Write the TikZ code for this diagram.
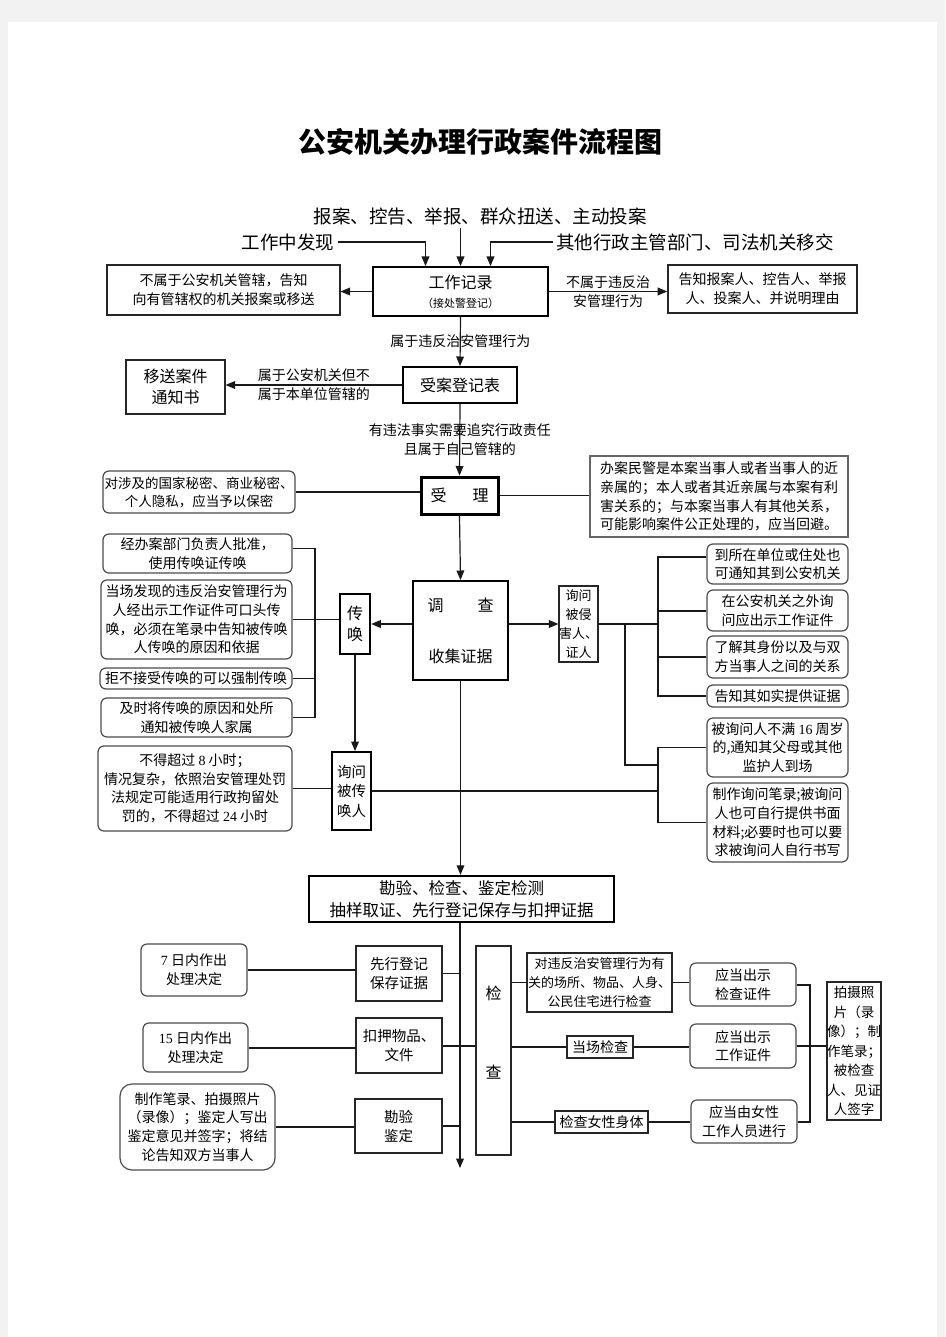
\documentclass[tikz,border=0pt]{standalone}
\usepackage{fontspec}
\setmainfont{Noto Sans CJK SC}
\newfontfamily\numfont{Liberation Serif}
\usetikzlibrary{arrows}
\newcommand{\fsize}[2]{\fontsize{#1}{#2}\selectfont}
\newcommand{\num}[1]{{\numfont #1}}

\begin{document}
\begin{tikzpicture}[x=1pt,y=-1pt,>=triangle 45,font=\fsize{14}{18.7}]

  \tikzstyle{keybox}=[draw=black,line width=2pt,align=center,inner sep=1pt]
  \tikzstyle{notebox}=[draw=black!85,line width=1.2pt,align=center,inner sep=1pt]
  \tikzstyle{roundbox}=[notebox,draw=black!70,rounded corners=6pt]
  \tikzstyle{lab}=[align=center,inner sep=0pt,black]
  \tikzstyle{link}=[line width=1.2pt,black!90]
  \tikzstyle{heavy}=[line width=2pt]

  % page
  \fill[black!5] (0,0) rectangle (945,1337);
  \fill[white] (8,22) rectangle (937,1337);
  \useasboundingbox (0,0) rectangle (945,1337);

  \node[font=\fsize{28}{32}\bfseries] (title) at (480,142) {公安机关办理行政案件流程图};

  % sources
  \node[font=\fsize{18.5}{22}] (src) at (480,216) {报案、控告、举报、群众扭送、主动投案};
  \node[font=\fsize{18.5}{22}] (find) at (288,242) {工作中发现};
  \node[font=\fsize{18.5}{22}] (other) at (695,242) {其他行政主管部门、司法机关移交};

  % intake
  \node[keybox,font=\fsize{16}{19},minimum width=175pt,minimum height=49pt] (rec) at (460.5,291.5) {工作记录\\{\fsize{11}{13}（接处警登记）}};
  \node[notebox,minimum width=233pt,minimum height=50pt] (outside) at (223.5,290) {不属于公安机关管辖，告知\\向有管辖权的机关报案或移送};
  \node[notebox,line width=1.6pt,minimum width=189pt,minimum height=48pt] (inform) at (762.5,289) {告知报案人、控告人、举报\\人、投案人、并说明理由};
  \node[keybox,font=\fsize{16}{19},minimum width=114pt,minimum height=36pt] (reg) at (460,385) {受案登记表};
  \node[notebox,font=\fsize{16}{21},minimum width=99pt,minimum height=54pt] (transfer) at (175.5,387) {移送案件\\通知书};
  \node[keybox,line width=3pt,font=\fsize{16}{19},minimum width=77pt,minimum height=37pt] (accept) at (459.5,495.5) {受\hspace{26pt}理};
  \node[roundbox,font=\fsize{13.5}{18},minimum width=192pt,minimum height=42pt] (secret) at (199,492) {对涉及的国家秘密、商业秘密、\\个人隐私，应当予以保密};
  \node[notebox,draw=black!60,align=left,minimum width=258pt,minimum height=81pt] (avoid) at (719,496.5) {办案民警是本案当事人或者当事人的近\\亲属的；本人或者其近亲属与本案有利\\害关系的；与本案当事人有其他关系，\\可能影响案件公正处理的，应当回避。};

  % investigation
  \node[keybox,font=\fsize{16}{19},minimum width=95pt,minimum height=99pt] (inv) at (460.5,630.5) {调\hspace{34pt}查\\[32pt]收集证据};
  \node[keybox,line width=2.5pt,font=\fsize{16}{21},minimum width=30pt,minimum height=60pt] (summon) at (355,624) {传\\唤};
  \node[notebox,font=\fsize{13}{19},inner sep=0pt,minimum width=39pt,minimum height=76pt] (victim) at (578.5,624) {询问\\被侵\\害人、\\证人};

  \node[roundbox,minimum width=189pt,minimum height=39pt] (s1) at (197.5,553.5) {经办案部门负责人批准，\\使用传唤证传唤};
  \node[roundbox,minimum width=191pt,minimum height=79pt] (s2) at (196.5,619.5) {当场发现的违反治安管理行为\\人经出示工作证件可口头传\\唤，必须在笔录中告知被传唤\\人传唤的原因和依据};
  \node[roundbox,minimum width=192pt,minimum height=21pt] (s3) at (196,678.5) {拒不接受传唤的可以强制传唤};
  \node[roundbox,minimum width=191pt,minimum height=39pt] (s4) at (196.5,717.5) {及时将传唤的原因和处所\\通知被传唤人家属};
  \node[roundbox,minimum width=194pt,minimum height=85pt] (hold) at (195,788.5) {不得超过 \num{8} 小时；\\情况复杂，依照治安管理处罚\\法规定可能适用行政拘留处\\罚的，不得超过 \num{24} 小时};
  \node[keybox,font=\fsize{14.5}{19.5},minimum width=39pt,minimum height=78pt] (ask) at (351.5,791) {询问\\被传\\唤人};

  \node[roundbox,minimum width=141pt,minimum height=40pt] (r1) at (777.5,564) {到所在单位或住处也\\可通知其到公安机关};
  \node[roundbox,minimum width=141pt,minimum height=41pt] (r2) at (777.5,610.5) {在公安机关之外询\\问应出示工作证件};
  \node[roundbox,minimum width=141pt,minimum height=42pt] (r3) at (777.5,657) {了解其身份以及与双\\方当事人之间的关系};
  \node[roundbox,minimum width=141pt,minimum height=22pt] (r4) at (777.5,696) {告知其如实提供证据};
  \node[roundbox,minimum width=141pt,minimum height=59pt] (r5) at (777.5,747.5) {被询问人不满 \num{16} 周岁\\的,通知其父母或其他\\监护人到场};
  \node[roundbox,minimum width=141pt,minimum height=79pt] (r6) at (777.5,822.5) {制作询问笔录;被询问\\人也可自行提供书面\\材料;必要时也可以要\\求被询问人自行书写};

  % evidence
  \node[keybox,line width=2.5pt,font=\fsize{16.5}{22},minimum width=305pt,minimum height=46pt] (check) at (461.5,899) {勘验、检查、鉴定检测\\抽样取证、先行登记保存与扣押证据};
  \node[notebox,font=\fsize{14.5}{19},minimum width=86pt,minimum height=55pt] (pre) at (399,973.5) {先行登记\\保存证据};
  \node[notebox,font=\fsize{14.5}{19},minimum width=86pt,minimum height=55pt] (seize) at (399,1045.5) {扣押物品、\\文件};
  \node[notebox,font=\fsize{14.5}{19},minimum width=87pt,minimum height=54pt] (survey) at (398.5,1126) {勘验\\鉴定};
  \node[roundbox,minimum width=106pt,minimum height=52pt] (d7) at (194,970) {\num{7} 日内作出\\处理决定};
  \node[roundbox,minimum width=105pt,minimum height=49pt] (d15) at (195.5,1047.5) {\num{15} 日内作出\\处理决定};
  \node[roundbox,rounded corners=12pt,minimum width=155pt,minimum height=86pt] (rec2) at (197.5,1127) {制作笔录、拍摄照片\\（录像）；鉴定人写出\\鉴定意见并签字；将结\\论告知双方当事人};
  \node[notebox,font=\fsize{16}{19},minimum width=35pt,minimum height=209pt] (insp) at (493.5,1050.5) {检\\[60pt]查\\[12pt]\strut};
  \node[notebox,font=\fsize{13}{19},inner sep=0pt,minimum width=145pt,minimum height=59pt] (place) at (599.5,982.5) {对违反治安管理行为有\\关的场所、物品、人身、\\公民住宅进行检查};
  \node[notebox,inner sep=0pt,minimum width=66pt,minimum height=22pt] (spot) at (600,1047) {当场检查};
  \node[notebox,inner sep=0pt,minimum width=93pt,minimum height=22pt] (female) at (601.5,1122) {检查女性身体};
  \node[roundbox,minimum width=106pt,minimum height=43pt] (cert1) at (743,984.5) {应当出示\\检查证件};
  \node[roundbox,minimum width=106pt,minimum height=44pt] (cert2) at (743,1046) {应当出示\\工作证件};
  \node[roundbox,minimum width=106pt,minimum height=43pt] (cert3) at (744,1121.5) {应当由女性\\工作人员进行};
  \node[notebox,font=\fsize{13.5}{19.5},inner sep=0pt,minimum width=54pt,minimum height=138pt] (photo) at (854,1051) {拍摄照\\片（录\\像）；制\\作笔录；\\被检查\\人、见证\\人签字};

  \coordinate (bl) at (315,0);
  \coordinate (br) at (658,0);
  \coordinate (vx) at (625,0);
  \coordinate (j2) at (658,765);
  \coordinate (bk) at (810,0);
  \coordinate (end) at (460,1168);

  % main flow
  \draw[link,->] (find.east) -| ([xshift=-35pt]rec.north);
  \draw[link,->] (rec.north |- src.south) -- (rec.north);
  \draw[link,->] (other.west) -| ([xshift=30pt]rec.north);
  \path[link,->]
    (rec.west) edge (rec.west -| outside.east)
    (rec.east) edge node[lab] {不属于违反治\\安管理行为} (rec.east -| inform.west)
    (rec.south) edge node[lab] {属于违反治安管理行为} (reg.north)
    (reg.west) edge node[lab] {属于公安机关但不\\属于本单位管辖的} (reg.west -| transfer.east)
    (reg.south) edge node[lab] {有违法事实需要追究行政责任\\且属于自己管辖的} (accept.north)
    (accept.south) edge (inv.north)
    (inv.west |- summon.east) edge (summon.east)
    (inv.east |- victim.west) edge (victim.west)
    (summon.south) edge (summon.south |- ask.north)
    (inv.south) edge (inv.south |- check.north)
    (check.south -| end) edge (end);

  % side notes
  \draw[link] (secret.east) -- (secret.east -| accept.west);
  \draw[link] (accept.east) -- (accept.east -| avoid.west);
  \draw[link] ([yshift=5pt]s1.east) -| (bl |- s4.east) -- (s4.east);
  \draw[link] (s3.east) -- (s3.east -| bl);
  \draw[link] (s2.east) -- (s2.east -| summon.west);
  \draw[link] (hold.east) -- (hold.east -| ask.west);
  \draw[link] (ask.east) -- (ask.east -| br);
  \draw[link] ([yshift=7pt]r1.west) -| (br |- r4.west) -- (r4.west);
  \draw[link] (r3.west) -- (r3.west -| br);
  \draw[link,heavy] (r2.west) -- (r2.west -| br);
  \draw[link] (victim.east) -- (victim.east -| br);
  \draw[link] (vx |- victim.east) |- (j2);
  \draw[link] (r5.west) -| (br |- r6.west) -- (r6.west);

  % evidence branches
  \draw[link] (pre.east) -- (pre.east -| end);
  \draw[link] (survey.east) -- (survey.east -| end);
  \draw[link] (d7.east) -- (d7.east -| pre.west);
  \draw[link] (rec2.east) -- (rec2.east -| survey.west);
  \draw[link,heavy] (d15.east) -- (d15.east -| seize.west);
  \draw[link,heavy] (seize.east) -- (seize.east -| insp.west);
  \draw[link] (insp.east |- place.west) -- (place.west);
  \draw[link] (place.east) -- (place.east -| cert1.west);
  \draw[link,heavy] (insp.east |- spot.west) -- (spot.west);
  \draw[link,heavy] (spot.east) -- (spot.east -| cert2.west);
  \draw[link] (insp.east |- female.west) -- (female.west);
  \draw[link] (female.east) -- (female.east -| cert3.west);
  \draw[link,heavy] (cert1.east) -| (bk |- cert3.east) -- (cert3.east);
  \draw[link] (cert2.east) -- (cert2.east -| photo.west);

\end{tikzpicture}
\end{document}
